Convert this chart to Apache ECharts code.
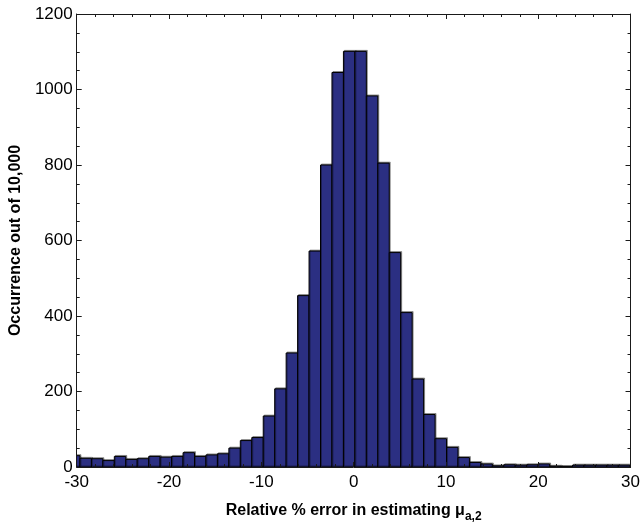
<!DOCTYPE html>
<html>
<head>
<meta charset="utf-8">
<script src="https://cdn.jsdelivr.net/npm/echarts@6/dist/echarts.min.js"></script>
<style>
html,body{margin:0;padding:0;background:#fff;}
#chart{width:643px;height:528px;}
</style>
</head>
<body>
<div id="chart"></div>
<script>
// Histogram data
const binStart = -30.89;   // left edge of first (clipped) bin, % error
const binWidth = 1.241;    // bin width, % error
const counts = [
  30, 23, 22, 17, 28, 20, 22, 28, 26, 28, 38, 28, 32, 35, 50, 70, 78, 135,
  207, 302, 454, 572, 800, 1045,
  1101, 1101, 983, 805, 568, 409, 233, 139, 75, 52, 25, 12, 8, 3, 6, 5, 6, 8,
  2, 1, 5, 5, 5, 5, 5
];
const xTicks = [-30, -20, -10, 0, 10, 20, 30];
const yTicks = [0, 200, 400, 600, 800, 1000, 1200];

const barData = counts.map((c, i) => [binStart + i * binWidth, binStart + (i + 1) * binWidth, c]);

const fontFam = 'Liberation Sans, Arial, Helvetica, sans-serif';
const axisColor = '#1a1a1a';

function baseX(extra) {
  return Object.assign({
    type: 'value', min: xTicks[0], max: xTicks[xTicks.length - 1], interval: 10,
    splitLine: { show: false },
    axisLine: { show: true, onZero: false, lineStyle: { color: axisColor, width: 1 } },
    axisTick: { show: true, inside: true, length: 5, lineStyle: { color: axisColor } },
    minorTick: { show: true, splitNumber: 5, length: 3, lineStyle: { color: axisColor } },
    z: 10
  }, extra);
}
function baseY(extra) {
  return Object.assign({
    type: 'value', min: yTicks[0], max: yTicks[yTicks.length - 1], interval: 200,
    splitLine: { show: false },
    axisLine: { show: true, onZero: false, lineStyle: { color: axisColor, width: 1 } },
    axisTick: { show: true, inside: true, length: 5, lineStyle: { color: axisColor } },
    minorTick: { show: true, splitNumber: 4, length: 3, lineStyle: { color: axisColor } },
    z: 10
  }, extra);
}

const chart = echarts.init(document.getElementById('chart'), null, { renderer: 'canvas' });
chart.setOption({
  backgroundColor: '#ffffff',
  animation: false,
  grid: { left: 74, right: 9, top: 14, bottom: 58 },
  xAxis: [
    baseX({
      position: 'bottom',
      axisLabel: { color: '#000', fontSize: 17, fontFamily: fontFam, margin: 7, formatter: v => String(v) },
      name: '{b|Relative % error in estimating μ}{s|a,2}',
      nameLocation: 'middle',
      nameGap: 32,
      nameTextStyle: {
        rich: {
          b: { fontSize: 16, fontWeight: 'bold', fontFamily: fontFam, color: '#000' },
          s: { fontSize: 12, fontWeight: 'bold', fontFamily: fontFam, color: '#000', padding: [12, 0, 0, 0] }
        }
      }
    }),
    baseX({ position: 'top', axisLabel: { show: false } })
  ],
  yAxis: [
    baseY({
      position: 'left',
      axisLabel: { color: '#000', fontSize: 17, fontFamily: fontFam, margin: 4, formatter: v => String(v) },
      name: 'Occurrence out of 10,000',
      nameLocation: 'middle',
      nameGap: 48,
      nameTextStyle: { fontSize: 16, fontWeight: 'bold', fontFamily: fontFam, color: '#000' }
    }),
    baseY({ position: 'right', axisLabel: { show: false } })
  ],
  series: [{
    type: 'custom',
    clip: true,
    xAxisIndex: 0,
    yAxisIndex: 0,
    encode: { x: [0, 1], y: 2 },
    data: barData,
    renderItem: function (params, api) {
      const p0 = api.coord([api.value(0), api.value(2)]);
      const p1 = api.coord([api.value(1), 0]);
      return {
        type: 'rect',
        shape: { x: p0[0], y: p0[1], width: p1[0] - p0[0], height: p1[1] - p0[1] },
        style: {
          fill: '#2b2f82',
          stroke: '#000000',
          lineWidth: 1,
          shadowColor: 'rgba(0,0,0,0.35)',
          shadowOffsetX: 1,
          shadowOffsetY: -1,
          shadowBlur: 0
        }
      };
    },
    z: 2
  }]
});
</script>
</body>
</html>
